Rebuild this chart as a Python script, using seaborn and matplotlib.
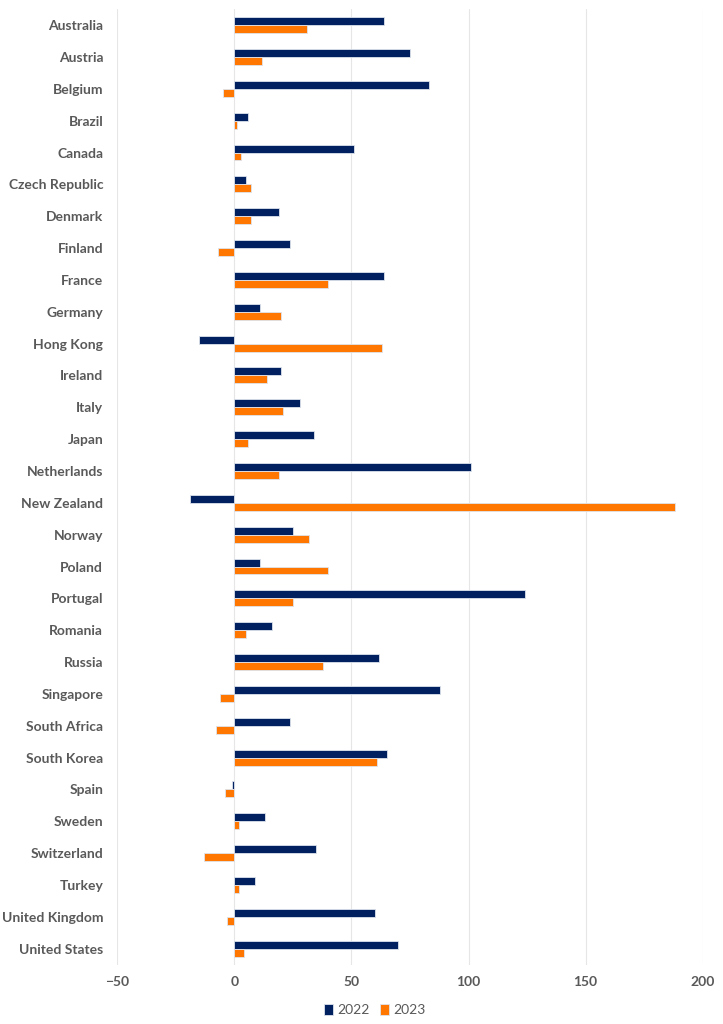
import pandas as pd
import matplotlib.pyplot as plt
import seaborn as sns

countries = ["Australia", "Austria", "Belgium", "Brazil", "Canada", "Czech Republic",
             "Denmark", "Finland", "France", "Germany", "Hong Kong", "Ireland", "Italy",
             "Japan", "Netherlands", "New Zealand", "Norway", "Poland", "Portugal",
             "Romania", "Russia", "Singapore", "South Africa", "South Korea", "Spain",
             "Sweden", "Switzerland", "Turkey", "United Kingdom", "United States"]
vals_2022 = [64, 75, 83, 6, 51, 5, 19, 24, 64, 11, -15, 20, 28, 34, 101, -19, 25, 11,
             124, 16, 62, 88, 24, 65, -1, 13, 35, 9, 60, 70]
vals_2023 = [31, 12, -5, 1, 3, 7, 7, -7, 40, 20, 63, 14, 21, 6, 19, 188, 32, 40,
             25, 5, 38, -6, -8, 61, -4, 2, -13, 2, -3, 4]
years = ["2022", "2023"]
colors = ["#002060", "#FF7700"]

df = pd.DataFrame({
    "country": countries * 2,
    "value": vals_2022 + vals_2023,
    "year": [years[0]] * len(countries) + [years[1]] * len(countries),
})

sns.set_style("white")
plt.rcParams["font.family"] = ["Lato", "DejaVu Sans"]

fig = plt.figure(figsize=(7.23, 10.24), dpi=100)
ax = fig.add_axes([0.162, 0.058, 0.81, 0.933])

sns.barplot(data=df, x="value", y="country", hue="year", palette=colors,
            saturation=1, width=0.5, orient="h", edgecolor="#dde3ee",
            linewidth=0.6, ax=ax)

ax.set_xlim(-50, 200)
ax.set_xticks([-50, 0, 50, 100, 150, 200])
ax.xaxis.grid(True, color="#e6e6e6", linewidth=0.8)
ax.set_axisbelow(True)
for s in ax.spines.values():
    s.set_visible(False)
ax.set_xlabel("")
ax.set_ylabel("")
ax.tick_params(axis="both", length=0, labelsize=10, labelcolor="#595959")
ax.tick_params(axis="y", pad=10)
ax.tick_params(axis="x", pad=8)
for lbl in ax.get_yticklabels() + ax.get_xticklabels():
    lbl.set_fontweight("bold")

handles, labels = ax.get_legend_handles_labels()
ax.legend(handles, labels, loc="upper center", bbox_to_anchor=(0.44, -0.028),
          ncol=2, frameon=False, fontsize=10, handlelength=0.6, handleheight=0.9,
          handletextpad=0.3, columnspacing=0.8, labelcolor="#595959")

fig.savefig("out.png", dpi=100)
